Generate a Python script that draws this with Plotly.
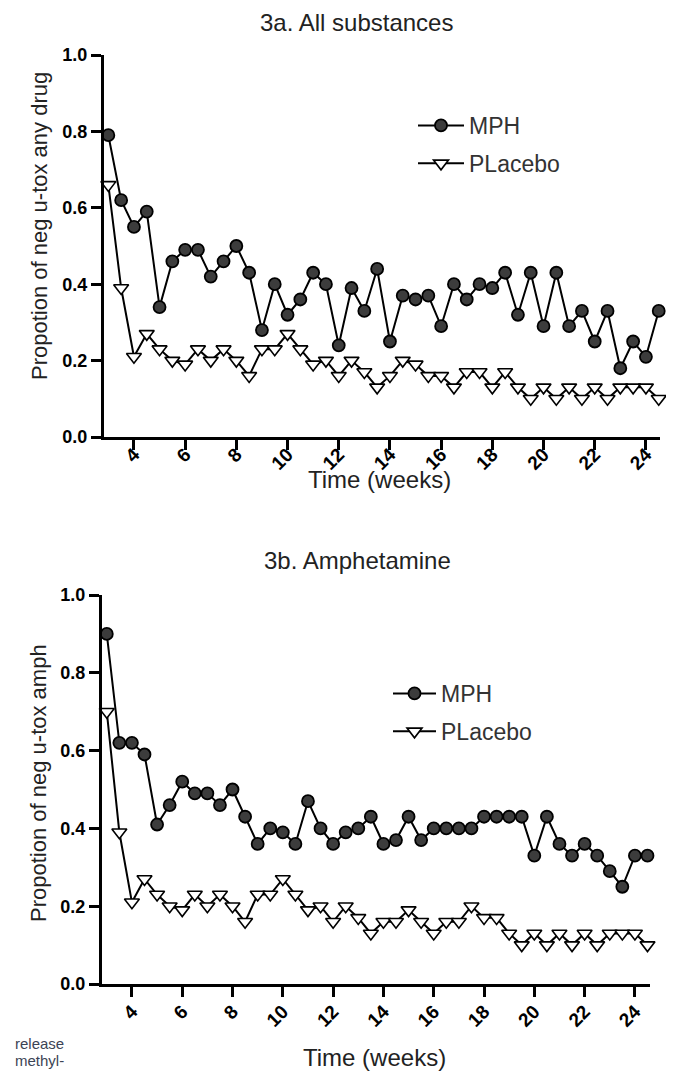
import plotly.graph_objects as go

weeks = [3 + 0.5 * i for i in range(44)]

mph_all = [0.79, 0.62, 0.55, 0.59, 0.34, 0.46, 0.49, 0.49, 0.42, 0.46, 0.50, 0.43,
           0.28, 0.40, 0.32, 0.36, 0.43, 0.40, 0.24, 0.39, 0.33, 0.44,
           0.25, 0.37, 0.36, 0.37, 0.29, 0.40, 0.36, 0.40, 0.39, 0.43, 0.32,
           0.43, 0.29, 0.43, 0.29, 0.33, 0.25, 0.33, 0.18, 0.25, 0.21, 0.33]
pla_all = [0.66, 0.39, 0.21, 0.27, 0.23, 0.20, 0.19, 0.23, 0.20, 0.23, 0.20, 0.16,
           0.23, 0.23, 0.27, 0.23, 0.19, 0.20, 0.16, 0.20, 0.17, 0.13,
           0.16, 0.20, 0.19, 0.16, 0.16, 0.13, 0.17, 0.17, 0.13, 0.17, 0.13,
           0.10, 0.13, 0.10, 0.13, 0.10, 0.13, 0.10, 0.13, 0.13, 0.13, 0.10]
mph_amph = [0.90, 0.62, 0.62, 0.59, 0.41, 0.46, 0.52, 0.49, 0.49, 0.46, 0.50, 0.43,
            0.36, 0.40, 0.39, 0.36, 0.47, 0.40, 0.36, 0.39, 0.40, 0.43,
            0.36, 0.37, 0.43, 0.37, 0.40, 0.40, 0.40, 0.40, 0.43, 0.43, 0.43,
            0.43, 0.33, 0.43, 0.36, 0.33, 0.36, 0.33, 0.29, 0.25, 0.33, 0.33]
pla_amph = [0.70, 0.39, 0.21, 0.27, 0.23, 0.20, 0.19, 0.23, 0.20, 0.23, 0.20, 0.16,
            0.23, 0.23, 0.27, 0.23, 0.19, 0.20, 0.16, 0.20, 0.17, 0.13,
            0.16, 0.16, 0.19, 0.16, 0.13, 0.16, 0.16, 0.20, 0.17, 0.17, 0.13,
            0.10, 0.13, 0.10, 0.13, 0.10, 0.13, 0.10, 0.13, 0.13, 0.13, 0.10]

x_ticks = [4, 6, 8, 10, 12, 14, 16, 18, 20, 22, 24]
y_ticks = [0.0, 0.2, 0.4, 0.6, 0.8, 1.0]
series_names = ["MPH", "PLacebo"]
titles = ["3a. All substances", "3b. Amphetamine"]
y_titles = ["Propotion of neg u-tox any drug", "Propotion of neg u-tox amph"]
x_title = "Time (weeks)"

# The page body has an 8px default margin, so the figure is drawn 8px in
# from the top-left corner of the window; size and place things accordingly.
OFF = 8
W, H = 674 - OFF, 1072 - OFF
FONT = "Liberation Sans, Arial, Helvetica, sans-serif"


def px_x(v):
    return (v - OFF) / W


def px_y(v):
    return 1 - (v - OFF) / H


mph_marker = dict(symbol="circle", size=12, color="#3c3c3c",
                  line=dict(color="black", width=1.8))
pla_marker = dict(symbol="triangle-down", size=13, color="white",
                  line=dict(color="black", width=1.6))

fig = go.Figure()
panels = [
    ("x", "y", "legend", mph_all, pla_all),
    ("x2", "y2", "legend2", mph_amph, pla_amph),
]
for i, (xa, ya, lg, m, p) in enumerate(panels):
    fig.add_trace(go.Scatter(x=weeks, y=m, name=series_names[0], mode="lines+markers",
                             xaxis=xa, yaxis=ya, legend=lg, legendgroup=f"m{i}",
                             line=dict(color="black", width=2), marker=mph_marker,
                             cliponaxis=False))
    fig.add_trace(go.Scatter(x=weeks, y=p, name=series_names[1], mode="lines+markers",
                             xaxis=xa, yaxis=ya, legend=lg, legendgroup=f"p{i}",
                             line=dict(color="black", width=2), marker=pla_marker,
                             cliponaxis=False))

axis_common = dict(showline=True, linecolor="black", linewidth=3, ticks="outside",
                   ticklen=10, tickwidth=2.5, tickcolor="black", showgrid=False,
                   zeroline=False, mirror=False, automargin=False)
ytick_font = dict(family=FONT, size=18, color="black", weight="bold")
xtick_font = dict(family=FONT, size=19, color="black", weight="bold")

fig.update_layout(
    width=W, height=H, autosize=False,
    margin=dict(l=0, r=0, t=0, b=0, pad=0),
    paper_bgcolor="white", plot_bgcolor="white",
    showlegend=True,
    xaxis=dict(domain=[px_x(104), px_x(660)], range=[2.83, 24.55], anchor="y",
               tickvals=x_ticks, ticktext=[str(t) for t in x_ticks], tickangle=-45,
               tickfont=xtick_font, ticklabelstandoff=-14, **axis_common),
    yaxis=dict(domain=[px_y(437), px_y(55)], range=[0, 1], anchor="x",
               tickvals=y_ticks, ticktext=[f"{t:.1f}" for t in y_ticks],
               tickfont=ytick_font, **axis_common),
    xaxis2=dict(domain=[px_x(102), px_x(650)], range=[2.81, 24.6], anchor="y2",
                tickvals=x_ticks, ticktext=[str(t) for t in x_ticks], tickangle=-45,
                tickfont=xtick_font, ticklabelstandoff=-4, **axis_common),
    yaxis2=dict(domain=[px_y(984), px_y(595)], range=[0, 1], anchor="x2",
                tickvals=y_ticks, ticktext=[f"{t:.1f}" for t in y_ticks],
                tickfont=ytick_font, **axis_common),
    legend=dict(x=px_x(413), y=px_y(104), xanchor="left", yanchor="top",
                font=dict(family=FONT, size=23, color="#333333"),
                bgcolor="rgba(0,0,0,0)", tracegroupgap=5, itemwidth=46),
    legend2=dict(x=px_x(388), y=px_y(672), xanchor="left", yanchor="top",
                 font=dict(family=FONT, size=23, color="#333333"),
                 bgcolor="rgba(0,0,0,0)", tracegroupgap=5, itemwidth=43),
)

ann_font = dict(family=FONT, size=24, color="#222222")
annotations = [
    dict(text=titles[0], x=px_x(356), y=1.0, xref="paper", yref="paper",
         showarrow=False, font=ann_font, xanchor="center", yanchor="top",
         borderpad=0),
    dict(text=titles[1], x=px_x(357), y=px_y(560), xref="paper", yref="paper",
         showarrow=False, font=ann_font, xanchor="center", yanchor="middle"),
    dict(text=x_title, x=px_x(380), y=px_y(480), xref="paper", yref="paper",
         showarrow=False, font=ann_font, xanchor="center", yanchor="middle"),
    dict(text=x_title, x=px_x(374), y=px_y(1057), xref="paper", yref="paper",
         showarrow=False, font=ann_font, xanchor="center", yanchor="middle"),
    dict(text=y_titles[0], x=px_x(39), y=px_y(226), xref="paper", yref="paper",
         showarrow=False, font=dict(family=FONT, size=22, color="#222222"),
         textangle=-90, xanchor="center", yanchor="middle"),
    dict(text=y_titles[1], x=px_x(38), y=px_y(783), xref="paper", yref="paper",
         showarrow=False, font=dict(family=FONT, size=22, color="#222222"),
         textangle=-90, xanchor="center", yanchor="middle"),
    dict(text="release", x=px_x(13), y=px_y(1043), xref="paper", yref="paper",
         showarrow=False, font=dict(family=FONT, size=15, color="#3c4455"),
         xanchor="left", yanchor="middle"),
    dict(text="methyl-", x=px_x(13), y=px_y(1071), xref="paper", yref="paper",
         showarrow=False, font=dict(family=FONT, size=15, color="#3c4455"),
         xanchor="left", yanchor="bottom"),
]
fig.update_layout(annotations=annotations)

fig.write_html("out.html")
